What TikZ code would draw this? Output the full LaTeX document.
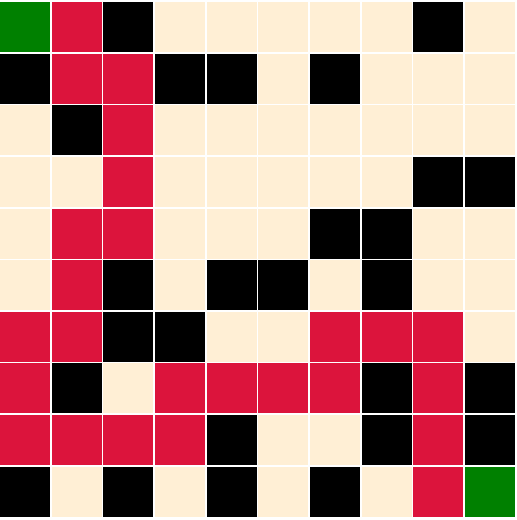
\documentclass[tikz,border=0pt]{standalone}
\definecolor{cellG}{HTML}{008000}
\definecolor{cellR}{HTML}{DC143C}
\definecolor{cellK}{HTML}{000000}
\definecolor{cellC}{HTML}{FFEFD5}
\begin{document}
\begin{tikzpicture}[x=1pt,y=-1pt,cell/.style={inner sep=0pt,outer sep=0pt,minimum width=50pt,minimum height=50pt,anchor=north west,draw=none}]
\fill[white] (0,0) rectangle (517,520);
\useasboundingbox (0,0) rectangle (517,520);
\foreach \row [count=\r from 0] in {
  {G,R,K,C,C,C,C,C,K,C},
  {K,R,R,K,K,C,K,C,C,C},
  {C,K,R,C,C,C,C,C,C,C},
  {C,C,R,C,C,C,C,C,K,K},
  {C,R,R,C,C,C,K,K,C,C},
  {C,R,K,C,K,K,C,K,C,C},
  {R,R,K,K,C,C,R,R,R,C},
  {R,K,C,R,R,R,R,K,R,K},
  {R,R,R,R,K,C,C,K,R,K},
  {K,C,K,C,K,C,K,C,R,G}} {
  \foreach \c [count=\k from 0] in \row {
    \node[cell,fill=cell\c] (n\r-\k) at ({\k*51.67},{2+\r*51.63}) {};
  }
}
\end{tikzpicture}
\end{document}
